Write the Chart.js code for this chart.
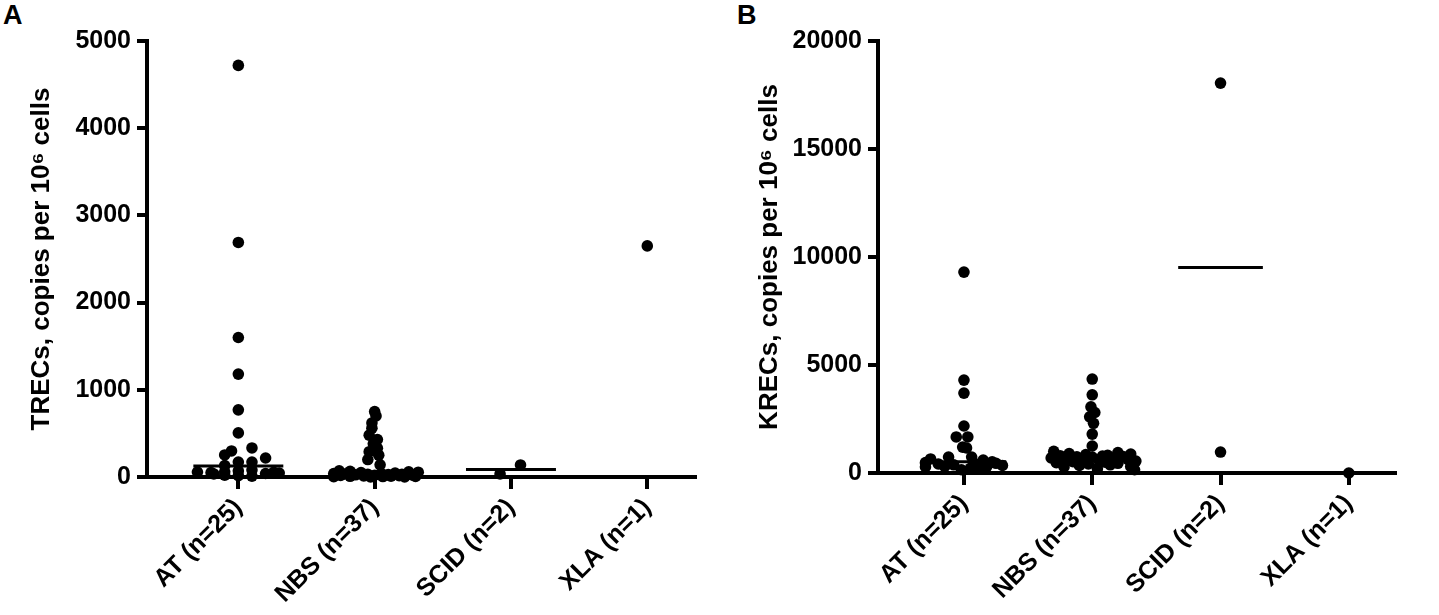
<!DOCTYPE html>
<html>
<head>
<meta charset="utf-8">
<script src="https://cdn.jsdelivr.net/npm/chart.js@4.4.1/dist/chart.umd.min.js"></script>
<style>
  html, body { margin: 0; padding: 0; background: #fff; }
  body { width: 1439px; height: 615px; position: relative; overflow: hidden;
         font-family: "Liberation Sans", Arial, sans-serif; }
  .panel { position: absolute; top: 0; height: 615px; }
  .letter { position: absolute; top: 0; font-weight: bold; font-size: 27px; color: #000; }
</style>
</head>
<body>
<div class="letter" style="left:3px">A</div>
<div class="letter" style="left:737px">B</div>
<div class="panel" style="left:0;width:720px"><canvas id="chartA"></canvas></div>
<div class="panel" style="left:720px;width:719px"><canvas id="chartB"></canvas></div>
<script>
// 组别
const CATS = ['AT (n=25)', 'NBS (n=37)', 'SCID (n=2)', 'XLA (n=1)'];

// ===== A: TRECs =====
const TREC_AT   = [4720, 2690, 1600, 1180, 770, 506, 333, 299, 253, 218, 172, 172, 130,
                   80, 70, 60, 57, 55, 50, 45, 40, 35, 20, 15, 10];
const TREC_AT_J = [0, 0, 0, 0, 0, 0, 0.10, -0.05, -0.10, 0.20, 0, 0.10, -0.10,
                   0.10, 0, -0.10, -0.30, 0.26, -0.20, 0.30, 0.20, -0.18, -0.10, 0, 0.10];
const TREC_NBS   = [750, 700, 620, 560, 480, 430, 380, 330, 290, 250, 200, 140,
                    70, 65, 60, 55, 50, 45, 40, 38, 35, 32, 30, 28, 25, 22, 20, 18, 15, 12, 10, 8, 6, 5, 4, 2, 1];
const TREC_NBS_J = [0, 0.01, -0.02, -0.02, -0.04, 0.02, -0.01, 0.02, -0.04, 0.03, -0.05, 0.04,
                    -0.26, -0.18, 0.25, 0.32, -0.10, 0.15, -0.30, 0.05, -0.22, 0.20,
                    -0.05, 0.10, -0.14, 0.28, 0, -0.25, 0.18, -0.08, 0.12, -0.18,
                    0.30, 0.06, -0.30, 0.22, -0.03];
const TREC_SCID   = [138, 35];
const TREC_SCID_J = [0.07, -0.08];
const TREC_XLA    = [2650];
const TREC_XLA_J  = [0];
const TREC_MEDIAN = [126, 40, 86, null];

// ===== B: KRECs =====
const KREC_AT   = [9300, 4300, 3700, 2175, 1670, 1670, 1200, 1160, 740, 740, 650, 600, 520,
                   480, 450, 420, 400, 380, 350, 320, 300, 280, 220, 180, 150];
const KREC_AT_J = [0, 0, 0, 0, -0.06, 0.03, -0.01, 0.02, 0.06, -0.12, -0.26, 0.15, 0.22,
                   -0.30, 0.25, -0.20, 0.10, -0.08, 0.30, 0.18, -0.15, -0.30, 0.05, 0.12, -0.02];
const KREC_NBS   = [4350, 3620, 3060, 2800, 2600, 2300, 1800, 1250,
                    1000, 950, 900, 880, 850, 820, 800, 780, 760, 750, 740,
                    700, 680, 650, 620, 600, 580, 550, 520, 500, 480, 450, 420, 380, 350, 300, 280, 200, 150];
const KREC_NBS_J = [0, 0, -0.01, 0.02, -0.02, 0.01, 0, 0,
                    -0.30, 0.20, -0.18, 0.30, -0.05, 0.12, -0.25, 0.08, 0.24, -0.12,
                    0.00, -0.32, 0.16, -0.08, 0.28, 0.05, -0.20, 0.34, -0.15, 0.10,
                    -0.28, 0.20, -0.03, 0.14, -0.10, 0.30, -0.22, 0.04, 0.33];
const KREC_SCID   = [18050, 970];
const KREC_SCID_J = [0, 0];
const KREC_XLA    = [0];
const KREC_XLA_J  = [0];
const KREC_MEDIAN = [520, 740, 9510, null];

const HALF_W = 0.33;   // 中位线半宽（类别单位）
const FONT = { family: '"Liberation Sans", Arial, sans-serif', weight: 'bold', size: 25 };
const INK = '#000';

function toPoints(groups) {
  // groups: [[values, jitter], ...] 按类别索引
  const pts = [];
  groups.forEach(([vals, jit], i) => vals.forEach((v, k) => pts.push({ x: i + jit[k], y: v })));
  return pts;
}

function medianSets(meds) {
  return meds.map((m, i) => m == null ? null : ({
    type: 'line',
    data: [{ x: i - HALF_W, y: m }, { x: i + HALF_W, y: m }],
    borderColor: INK, borderWidth: 3, pointRadius: 0, fill: false, clip: false,
  })).filter(Boolean);
}

function renderPanel(ctx, o) {
  return new Chart(ctx, {
    type: 'scatter',
    data: { datasets: [
      {
        data: toPoints(o.groups),
        backgroundColor: INK, borderColor: INK, borderWidth: 0,
        pointRadius: 5.8, pointHoverRadius: 5.8, clip: false,
      },
      ...medianSets(o.medians),
    ]},
    options: {
      responsive: true, maintainAspectRatio: false, animation: false,
      layout: { padding: { left: 0, top: o.top, right: o.right, bottom: 0 } },
      plugins: { legend: { display: false }, tooltip: { enabled: false } },
      scales: {
        x: {
          type: 'linear', min: -0.67, max: o.xMax,
          afterBuildTicks: s => { s.ticks = CATS.map((_, i) => ({ value: i })); },
          afterFit: s => { s.height = o.xH; },
          ticks: { callback: v => CATS[v], minRotation: 45, maxRotation: 45, autoSkip: false,
                   color: INK, font: FONT, padding: 4 },
          grid: { drawOnChartArea: false, tickLength: 12, lineWidth: 4, color: INK },
          border: { width: 4, color: INK },
        },
        y: {
          min: 0, max: o.yMax,
          afterFit: s => { s.width = o.yW; },
          ticks: { stepSize: o.step, color: INK, font: FONT, padding: 6, callback: v => String(v) },
          grid: { drawOnChartArea: false, tickLength: 10, lineWidth: 4, color: INK },
          border: { width: 4, color: INK },
          title: { display: true, text: o.title, color: INK,
                   font: { ...FONT, size: 26 },
                   padding: { top: o.titlePad, bottom: 0 } },
        },
      },
    },
  });
}

renderPanel(document.getElementById('chartA'), {
  groups: [[TREC_AT, TREC_AT_J], [TREC_NBS, TREC_NBS_J], [TREC_SCID, TREC_SCID_J], [TREC_XLA, TREC_XLA_J]],
  medians: TREC_MEDIAN,
  title: 'TRECs, copies per 10\u2076 cells',
  yMax: 5000, step: 1000, xMax: 3.35,
  top: 41, right: 25, yW: 147, xH: 138, titlePad: 26,
});

renderPanel(document.getElementById('chartB'), {
  groups: [[KREC_AT, KREC_AT_J], [KREC_NBS, KREC_NBS_J], [KREC_SCID, KREC_SCID_J], [KREC_XLA, KREC_XLA_J]],
  medians: KREC_MEDIAN,
  title: 'KRECs, copies per 10\u2076 cells',
  yMax: 20000, step: 5000, xMax: 3.36,
  top: 41, right: 44, yW: 158, xH: 142, titlePad: 34,
});
</script>
</body>
</html>
